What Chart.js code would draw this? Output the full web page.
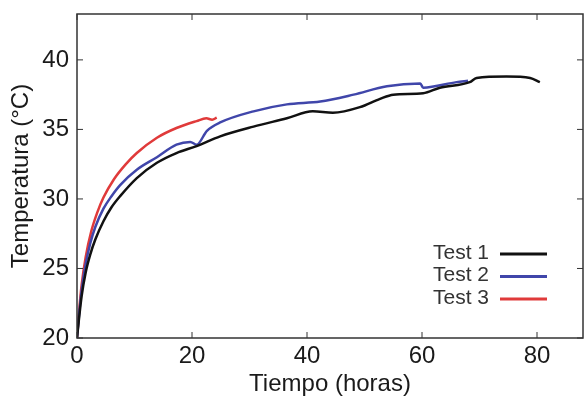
<!DOCTYPE html>
<html lang="es">
<head>
    <meta charset="UTF-8">
    <title>Temperatura vs Tiempo</title>
    <script src="https://cdn.jsdelivr.net/npm/chart.js"></script>
    <style>
        body {
            margin: 0;
            background: #fff;
        }

        .chart-container {
            width: 584px;
            height: 397px;
        }
    </style>
</head>
<body>
    <div class="chart-container">
        <canvas id="tempChart"></canvas>
    </div>

    <script>
        // values
        const labels = ['Test 1', 'Test 2', 'Test 3'];
        const colors = ['#111111', '#4046aa', '#e03a3a'];

        const time1 = [0, 0.3, 0.8, 1.5, 2.3, 3.2, 4.6, 6, 7.5, 10.4, 13.9, 17.3, 20.8, 24.9, 30.7, 36.5, 41, 44.5, 49.2, 52.7, 55, 60.2, 63.1, 68.3, 69.5, 74.7, 78.8, 80.5];
        const temp1 = [20, 21.2, 23.0, 24.7, 26.0, 27.1, 28.4, 29.4, 30.2, 31.5, 32.6, 33.3, 33.8, 34.5, 35.2, 35.8, 36.3, 36.2, 36.6, 37.2, 37.5, 37.6, 38.0, 38.4, 38.7, 38.8, 38.7, 38.4];

        const time2 = [0, 0.3, 0.8, 1.5, 2.3, 3.2, 4.6, 6, 7.5, 10.4, 13.9, 17.3, 19.7, 20.8, 22.6, 24.9, 30.7, 36.5, 42.3, 48.1, 53.9, 59.7, 60.2, 66, 68];
        const temp2 = [20, 21.4, 23.4, 25.3, 26.8, 28.0, 29.3, 30.2, 31.0, 32.1, 33.0, 33.9, 34.1, 33.9, 34.9, 35.5, 36.3, 36.8, 37.0, 37.5, 38.1, 38.3, 38.0, 38.4, 38.5];

        const time3 = [0, 0.3, 0.8, 1.5, 2.5, 3.5, 4.6, 6.4, 8.5, 10.4, 13.9, 17.3, 20.8, 22.5, 23.5, 24.3];
        const temp3 = [20, 21.6, 23.8, 25.8, 27.7, 29.0, 30.1, 31.4, 32.5, 33.3, 34.4, 35.1, 35.6, 35.8, 35.7, 35.85];

        const xTicks = [0, 20, 40, 60, 80];
        const yTicks = [20, 25, 30, 35, 40];

        const FONT = '"Liberation Sans", Arial, sans-serif';

        function toPoints(xs, ys) {
            return xs.map((x, i) => ({ x: x, y: ys[i] }));
        }

        // box with inward ticks, matlab style
        const boxPlugin = {
            id: 'box',
            afterDraw(chart) {
                const ctx = chart.ctx;
                const a = chart.chartArea;
                const xs = chart.scales.x;
                const ys = chart.scales.y;
                const len = 6;
                ctx.save();
                ctx.strokeStyle = '#333';
                ctx.lineWidth = 1.5;
                ctx.strokeRect(a.left, a.top, a.right - a.left, a.bottom - a.top);
                ctx.lineWidth = 1;
                ctx.beginPath();
                xTicks.forEach(v => {
                    const px = xs.getPixelForValue(v);
                    ctx.moveTo(px, a.bottom);
                    ctx.lineTo(px, a.bottom - len);
                    ctx.moveTo(px, a.top);
                    ctx.lineTo(px, a.top + len);
                });
                yTicks.forEach(v => {
                    const py = ys.getPixelForValue(v);
                    ctx.moveTo(a.left, py);
                    ctx.lineTo(a.left + len, py);
                    ctx.moveTo(a.right, py);
                    ctx.lineTo(a.right - len, py);
                });
                ctx.stroke();
                ctx.restore();
            }
        };

        // legend with text on the left of the line
        const legendPlugin = {
            id: 'sideLegend',
            afterDraw(chart) {
                const ctx = chart.ctx;
                const a = chart.chartArea;
                ctx.save();
                ctx.font = '21px ' + FONT;
                ctx.textAlign = 'right';
                ctx.textBaseline = 'middle';
                chart.data.datasets.forEach((ds, i) => {
                    const y = a.bottom - 85 + i * 22.5;
                    ctx.fillStyle = '#333';
                    ctx.fillText(ds.label, a.right - 94, y);
                    ctx.strokeStyle = ds.borderColor;
                    ctx.lineWidth = 3;
                    ctx.beginPath();
                    ctx.moveTo(a.right - 83, y + 1);
                    ctx.lineTo(a.right - 36, y + 1);
                    ctx.stroke();
                });
                ctx.restore();
            }
        };

        const ctx = document.getElementById('tempChart').getContext('2d');
        new Chart(ctx, {
            type: 'line',
            data: {
                datasets: [
                    { label: labels[0], data: toPoints(time1, temp1), borderColor: colors[0] },
                    { label: labels[1], data: toPoints(time2, temp2), borderColor: colors[1] },
                    { label: labels[2], data: toPoints(time3, temp3), borderColor: colors[2] }
                ].map(ds => Object.assign(ds, {
                    borderWidth: 2.5,
                    pointRadius: 0,
                    cubicInterpolationMode: 'monotone',
                    fill: false
                }))
            },
            options: {
                responsive: true,
                maintainAspectRatio: false,
                animation: false,
                layout: {
                    padding: { top: 14, right: 1, left: 0, bottom: 0 }
                },
                plugins: {
                    legend: { display: false },
                    tooltip: { enabled: false }
                },
                scales: {
                    x: {
                        type: 'linear',
                        min: 0,
                        max: 88,
                        afterBuildTicks(scale) {
                            scale.ticks = xTicks.map(v => ({ value: v }));
                        },
                        afterFit(scale) {
                            scale.height = 59;
                            scale.paddingLeft = 0;
                            scale.paddingRight = 0;
                        },
                        grid: { display: false, drawTicks: false },
                        border: { display: false },
                        ticks: {
                            padding: 4,
                            color: '#1a1a1a',
                            font: { family: FONT, size: 24 },
                            maxRotation: 0
                        },
                        title: {
                            display: true,
                            text: 'Tiempo (horas)',
                            color: '#1a1a1a',
                            font: { family: FONT, size: 24 },
                            padding: { top: 0, bottom: -2 }
                        }
                    },
                    y: {
                        type: 'linear',
                        min: 20,
                        max: 43.3,
                        afterBuildTicks(scale) {
                            scale.ticks = yTicks.map(v => ({ value: v }));
                        },
                        afterFit(scale) {
                            scale.width = 77;
                            scale.paddingTop = 0;
                            scale.paddingBottom = 0;
                        },
                        grid: { display: false, drawTicks: false },
                        border: { display: false },
                        ticks: {
                            padding: 8,
                            color: '#1a1a1a',
                            font: { family: FONT, size: 24 }
                        },
                        title: {
                            display: true,
                            text: 'Temperatura (°C)',
                            color: '#1a1a1a',
                            font: { family: FONT, size: 24 },
                            padding: { top: 7, bottom: 0 }
                        }
                    }
                }
            },
            plugins: [boxPlugin, legendPlugin]
        });
    </script>
</body>
</html>
